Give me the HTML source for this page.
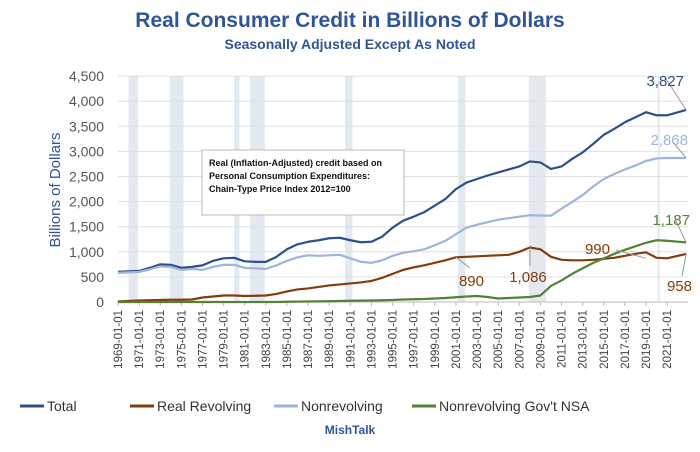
<!DOCTYPE html>
<html><head><meta charset="utf-8"><style>
body{margin:0;background:#fff;font-family:"Liberation Sans",sans-serif}
svg{display:block}
</style></head><body>
<svg id="c" width="700" height="452" xmlns="http://www.w3.org/2000/svg">
<text x="350" y="27" text-anchor="middle" font-size="21" font-weight="bold" fill="#2F5597">Real Consumer Credit in Billions of Dollars</text>
<text x="350" y="49" text-anchor="middle" font-size="14" font-weight="bold" fill="#2F5597">Seasonally Adjusted Except As Noted</text>
<g id="bands"></g>
<g id="grid"></g>
<g id="yt"></g>
<g id="xt"></g>
<text transform="translate(60,190) rotate(-90)" text-anchor="middle" font-size="15" fill="#2F5597">Billions of Dollars</text>
<g id="lines"></g>
<g>
<rect x="202" y="150" width="202" height="65" fill="#fff" stroke="#bbb"/>
<text x="209" y="166" font-size="9" font-weight="bold" fill="#111">Real (Inflation-Adjusted) credit based on</text>
<text x="209" y="179" font-size="9" font-weight="bold" fill="#111">Personal Consumption Expenditures:</text>
<text x="209" y="192" font-size="9" font-weight="bold" fill="#111">Chain-Type Price Index 2012=100</text>
</g>
<g id="ann"></g>
<g font-size="14" fill="#333">
<line x1="20" y1="406" x2="44" y2="406" stroke="#2F4F8A" stroke-width="3"/><text x="47" y="411">Total</text>
<line x1="130" y1="406" x2="154" y2="406" stroke="#843C0C" stroke-width="3"/><text x="157" y="411">Real Revolving</text>
<line x1="274" y1="406" x2="298" y2="406" stroke="#9DB5DC" stroke-width="3"/><text x="301" y="411">Nonrevolving</text>
<line x1="412" y1="406" x2="436" y2="406" stroke="#548235" stroke-width="3"/><text x="439" y="411">Nonrevolving Gov't NSA</text>
</g>
<text x="350" y="434" text-anchor="middle" font-size="12" font-weight="bold" fill="#2F5597">MishTalk</text>
</svg>
<script>
const years=[1969,1970,1971,1972,1973,1974,1975,1976,1977,1978,1979,1980,1981,1982,1983,1984,1985,1986,1987,1988,1989,1990,1991,1992,1993,1994,1995,1996,1997,1998,1999,2000,2001,2002,2003,2004,2005,2006,2007,2008,2009,2010,2011,2012,2013,2014,2015,2016,2017,2018,2019,2020,2021,2022.8];
const total=[600,610,620,680,750,740,680,700,730,820,870,880,810,800,800,900,1050,1150,1200,1230,1270,1280,1230,1190,1200,1300,1480,1620,1700,1790,1920,2050,2250,2380,2450,2520,2580,2640,2700,2800,2780,2650,2700,2850,2980,3150,3330,3450,3580,3680,3780,3720,3720,3827];
const nonrev=[580,590,600,650,710,700,640,660,640,700,740,740,680,670,660,730,820,890,930,920,930,940,870,800,780,830,920,980,1010,1050,1130,1220,1350,1480,1540,1590,1640,1670,1700,1730,1720,1720,1860,1990,2130,2300,2450,2550,2640,2720,2810,2860,2870,2868];
const revolving=[10,20,30,35,40,45,45,50,90,110,130,130,120,125,130,160,210,250,270,300,330,350,370,390,420,480,560,640,690,730,780,830,890,900,910,920,930,940,1000,1086,1050,900,840,830,830,840,860,880,920,960,990,880,870,958];
const gov=[0,0,0,0,0,0,0,0,0,0,0,0,0,0,0,0,5,8,10,12,15,20,25,28,30,35,40,50,55,60,70,80,95,110,120,100,70,80,90,100,130,320,430,560,670,780,870,960,1040,1110,1180,1230,1220,1187];
const yTicks=[0,500,1000,1500,2000,2500,3000,3500,4000,4500];
const recessions=[[1970,1970.9],[1973.9,1975.2],[1980,1980.5],[1981.5,1982.9],[1990.5,1991.2],[2001.2,2001.9],[2007.9,2009.5],[2020.1,2020.3]];
const X=y=>118+(y-1969)*10.56, Y=v=>302-v/500*25.1;
const NS='http://www.w3.org/2000/svg';
function mk(t,a,p){const e=document.createElementNS(NS,t);for(const k in a)e.setAttribute(k,a[k]);p.appendChild(e);return e;}
const g=id=>document.getElementById(id);
recessions.forEach(r=>{const e=mk('rect',{x:X(r[0]),y:76,width:X(r[1])-X(r[0]),height:226,fill:'#E4E9F1'},g('bands'));

});
yTicks.forEach(t=>{mk('line',{x1:118,x2:688,y1:Y(t),y2:Y(t),stroke:t?'#E0E0E0':'#BBB'},g('grid'));
const e=mk('text',{x:104,y:Y(t)+5,'text-anchor':'end','font-size':14,fill:'#555'},g('yt'));e.textContent=t.toLocaleString('en-US');

});
for(let y=1969;y<=2021;y+=2){const x=X(y);mk('line',{x1:x,x2:x,y1:302,y2:306,stroke:'#BBB'},g('xt'));
const e=mk('text',{transform:`translate(${x+4},310) rotate(-90)`,'text-anchor':'end','font-size':11.5,fill:'#444'},g('xt'));e.textContent=y+'-01-01';

}
[[total,'#2F4F8A','line-total'],[nonrev,'#9DB5DC','line-nonrevolving'],[revolving,'#843C0C','line-revolving'],[gov,'#548235','line-gov']].forEach(s=>{
const e=mk('polyline',{points:s[0].map((v,i)=>X(years[i])+','+Y(v)).join(' '),fill:'none',stroke:s[1],'stroke-width':2.2,'stroke-linejoin':'round'},g('lines'));

});
const n=years.length-1;
[[total[n],'#2F4F8A',X(years[n]),Y(total[n]),684,86,'end',666,79],
 [nonrev[n],'#9DB5DC',X(years[n]),Y(nonrev[n]),688,145,'end',673,142],
 [gov[n],'#548235',X(years[n]),Y(gov[n]),690,225,'end',676,221],
 [revolving[n],'#843C0C',X(years[n]),Y(revolving[n]),692,291,'end',682,276],
 [revolving[32],'#843C0C',X(years[32]),Y(revolving[32]),484,286,'end',470,268],
 [revolving[39],'#843C0C',X(2008),Y(revolving[39]),528,282,'middle',530,266],
 [revolving[50],'#843C0C',X(2019),Y(gov[46]),610,254,'end',616,250]].forEach(a=>{
mk('line',{x1:a[2],y1:a[3],x2:a[7],y2:a[8],stroke:'#999','stroke-width':1},g('ann'));
const e=mk('text',{x:a[4],y:a[5],'text-anchor':a[6],'font-size':15,fill:a[1]},g('ann'));e.textContent=a[0].toLocaleString('en-US');

});
</script>
</body></html>
